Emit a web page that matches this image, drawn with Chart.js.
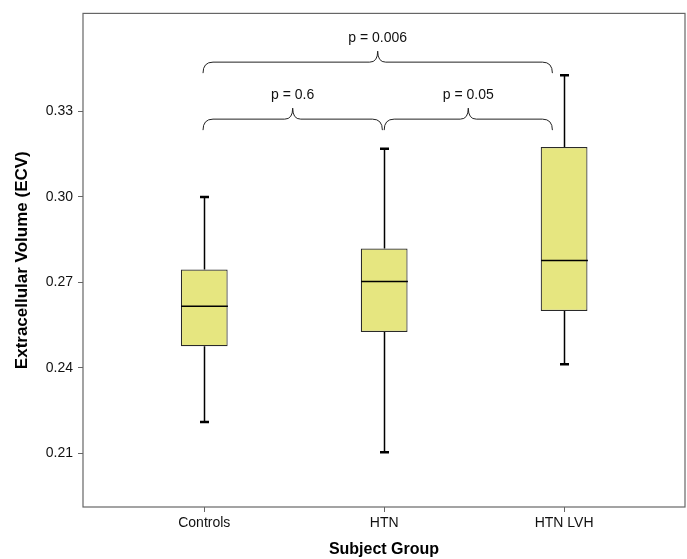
<!DOCTYPE html>
<html>
<head>
<meta charset="utf-8">
<script src="https://cdn.jsdelivr.net/npm/chart.js@4"></script>
<style>
  html, body { margin: 0; padding: 0; background: #fff; }
  #wrap { width: 687px; height: 559px; }
</style>
</head>
<body>
<div id="wrap"><canvas id="ecvChart"></canvas></div>
<script>
const groups = ['Controls', 'HTN', 'HTN LVH'];
const groupPos = [1, 2, 3];
const whiskerLow = [0.2209, 0.2103, 0.2412];
const q1 = [0.2475, 0.2525, 0.2599];
const median = [0.2615, 0.2702, 0.2776];
const q3 = [0.2744, 0.2818, 0.3174];
const whiskerHigh = [0.2999, 0.3168, 0.3426];
const yTicks = [0.21, 0.24, 0.27, 0.30, 0.33];

// pairwise comparisons (brackets)
const pFrom = [0.993, 2.0, 0.993];
const pTo = [1.99, 2.935, 2.935];
const pLevel = [0.3272, 0.3272, 0.3472];
const pLabels = ['p = 0.6', 'p = 0.05', 'p = 0.006'];

const FONT = '"Liberation Sans", Arial, Helvetica, sans-serif';

// whiskers, caps and median lines
const boxExtras = {
  id: 'boxExtras',
  afterDatasetsDraw(chart) {
    const ctx = chart.ctx;
    const xs = chart.scales.x, ys = chart.scales.y;
    const bars = chart.getDatasetMeta(0).data;
    ctx.save();
    ctx.strokeStyle = '#000';
    groupPos.forEach((g, i) => {
      const px = Math.round(xs.getPixelForValue(g)) + 0.5;
      const half = bars[i].width / 2;
      ctx.lineWidth = 1.5;
      ctx.beginPath();
      ctx.moveTo(px, ys.getPixelForValue(q3[i]));
      ctx.lineTo(px, ys.getPixelForValue(whiskerHigh[i]));
      ctx.moveTo(px, ys.getPixelForValue(q1[i]));
      ctx.lineTo(px, ys.getPixelForValue(whiskerLow[i]));
      ctx.stroke();
      ctx.lineWidth = 2.5;
      ctx.beginPath();
      ctx.moveTo(px - 4.5, ys.getPixelForValue(whiskerHigh[i]));
      ctx.lineTo(px + 4.5, ys.getPixelForValue(whiskerHigh[i]));
      ctx.moveTo(px - 4.5, ys.getPixelForValue(whiskerLow[i]));
      ctx.lineTo(px + 4.5, ys.getPixelForValue(whiskerLow[i]));
      ctx.stroke();
      ctx.lineWidth = 1.5;
      ctx.beginPath();
      ctx.moveTo(px - half, ys.getPixelForValue(median[i]));
      ctx.lineTo(px + half, ys.getPixelForValue(median[i]));
      ctx.stroke();
    });
    ctx.restore();
  }
};

// curly brackets with p-values, plus the frame round the plot
const brackets = {
  id: 'brackets',
  afterDraw(chart) {
    const ctx = chart.ctx;
    const xs = chart.scales.x, ys = chart.scales.y;
    const area = chart.chartArea;
    ctx.save();
    ctx.strokeStyle = '#666';
    ctx.lineWidth = 1.2;
    ctx.strokeRect(area.left, area.top, area.right - area.left, area.bottom - area.top);

    ctx.strokeStyle = '#222';
    ctx.lineWidth = 1;
    ctx.fillStyle = '#111';
    ctx.font = '14px ' + FONT;
    ctx.textAlign = 'center';
    ctx.textBaseline = 'middle';
    pLabels.forEach((label, i) => {
      const x0 = xs.getPixelForValue(pFrom[i]);
      const x1 = xs.getPixelForValue(pTo[i]);
      const xm = (x0 + x1) / 2;
      const yl = ys.getPixelForValue(pLevel[i]);
      ctx.beginPath();
      ctx.moveTo(x0, yl + 11);
      ctx.quadraticCurveTo(x0, yl, x0 + 10, yl);
      ctx.lineTo(xm - 8, yl);
      ctx.quadraticCurveTo(xm, yl, xm, yl - 11);
      ctx.quadraticCurveTo(xm, yl, xm + 8, yl);
      ctx.lineTo(x1 - 10, yl);
      ctx.quadraticCurveTo(x1, yl, x1, yl + 11);
      ctx.stroke();
      ctx.fillText(label, xm, yl - 24);
    });
    ctx.restore();
  }
};

const ctx = document.getElementById('ecvChart').getContext('2d');
new Chart(ctx, {
  type: 'bar',
  data: {
    datasets: [{
      label: 'ECV',
      data: groupPos.map((g, i) => ({ x: g, y: [q1[i], q3[i]] })),
      backgroundColor: '#E6E680',
      borderColor: '#2a2a2a',
      borderWidth: 1.2,
      borderSkipped: false,
      barPercentage: 0.26,
      categoryPercentage: 1
    }]
  },
  options: {
    responsive: true,
    maintainAspectRatio: false,
    animation: false,
    layout: { padding: { top: 12, right: 2, left: 0, bottom: 0 } },
    plugins: {
      legend: { display: false },
      tooltip: { enabled: false }
    },
    scales: {
      x: {
        type: 'linear',
        offset: false,
        min: 0.326,
        max: 3.672,
        afterBuildTicks: (scale) => { scale.ticks = groupPos.map(v => ({ value: v })); },
        afterFit: (scale) => { scale.height = 52; },
        ticks: {
          callback: (v, idx) => groups[idx],
          color: '#111',
          font: { family: FONT, size: 14 },
          padding: 3,
          maxRotation: 0
        },
        grid: { offset: false, drawOnChartArea: false, drawTicks: true, tickLength: 5, color: '#666' },
        border: { display: false },
        title: {
          display: true,
          text: 'Subject Group',
          color: '#000',
          font: { family: FONT, size: 16, weight: 'bold' },
          padding: { top: 0, bottom: 0 }
        }
      },
      y: {
        min: 0.1911,
        max: 0.3643,
        afterBuildTicks: (scale) => { scale.ticks = yTicks.map(v => ({ value: v })); },
        afterFit: (scale) => { scale.width = 83; },
        ticks: {
          callback: (v) => v.toFixed(2),
          color: '#111',
          font: { family: FONT, size: 14 },
          padding: 5
        },
        grid: { drawOnChartArea: false, drawTicks: true, tickLength: 5, color: '#666' },
        border: { display: false },
        title: {
          display: true,
          text: 'Extracellular Volume (ECV)',
          color: '#000',
          font: { family: FONT, size: 17, weight: 'bold' },
          padding: { top: 12, bottom: 0 }
        }
      }
    }
  },
  plugins: [boxExtras, brackets]
});
</script>
</body>
</html>
